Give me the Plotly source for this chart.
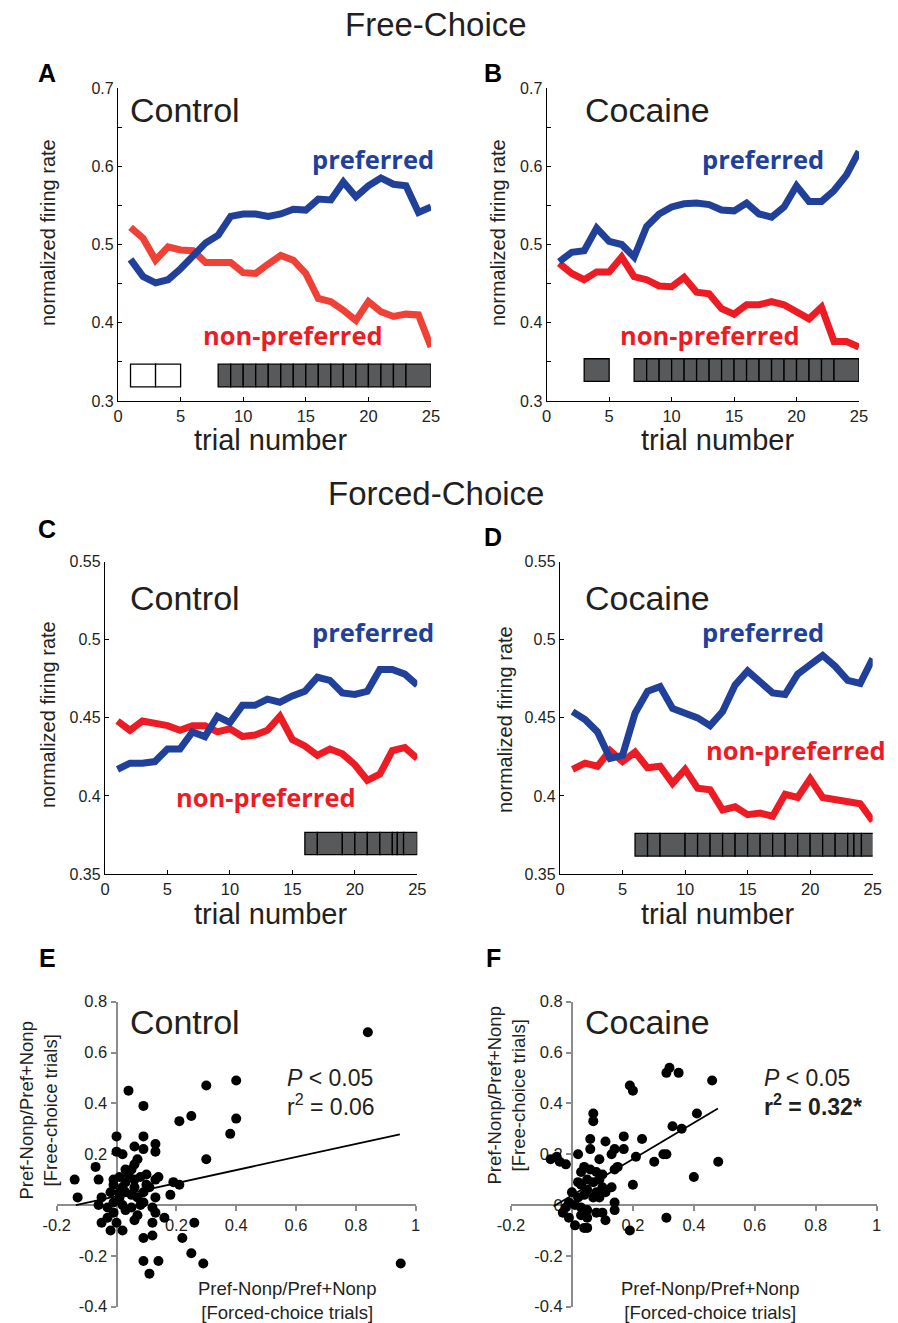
import plotly.graph_objects as go

W, H = 898, 1323

# ---------------- data ----------------
trials = list(range(1, 26))

free_ctrl_pref = [0.481, 0.459, 0.451, 0.455, 0.469, 0.486, 0.502, 0.512, 0.536, 0.539, 0.539, 0.536, 0.539,
                  0.545, 0.544, 0.558, 0.557, 0.580, 0.561, 0.575, 0.585, 0.577, 0.575, 0.541, 0.548]
free_ctrl_nonp = [0.522, 0.508, 0.480, 0.497, 0.493, 0.492, 0.477, 0.477, 0.477, 0.464, 0.463, 0.475, 0.486,
                  0.480, 0.463, 0.431, 0.427, 0.416, 0.403, 0.427, 0.414, 0.408, 0.411, 0.410, 0.369]
free_coc_pref = [0.478, 0.490, 0.492, 0.521, 0.504, 0.500, 0.484, 0.523, 0.539, 0.548, 0.552, 0.553, 0.551,
                 0.544, 0.543, 0.553, 0.539, 0.535, 0.548, 0.575, 0.555, 0.555, 0.569, 0.589, 0.619]
free_coc_nonp = [0.476, 0.463, 0.455, 0.465, 0.465, 0.484, 0.459, 0.455, 0.447, 0.446, 0.458, 0.439, 0.437,
                 0.418, 0.411, 0.423, 0.423, 0.427, 0.423, 0.414, 0.405, 0.420, 0.376, 0.376, 0.369]
forced_ctrl_pref = [0.417, 0.421, 0.421, 0.422, 0.430, 0.430, 0.441, 0.438, 0.451, 0.447, 0.458, 0.458, 0.462,
                    0.460, 0.464, 0.467, 0.476, 0.474, 0.466, 0.465, 0.467, 0.481, 0.481, 0.478, 0.471]
forced_ctrl_nonp = [0.448, 0.442, 0.448, 0.447, 0.445, 0.442, 0.445, 0.445, 0.441, 0.443, 0.438, 0.439, 0.442,
                    0.451, 0.436, 0.432, 0.426, 0.430, 0.427, 0.420, 0.410, 0.414, 0.429, 0.431, 0.424]
forced_coc_pref = [0.454, 0.449, 0.441, 0.424, 0.426, 0.453, 0.467, 0.470, 0.456, 0.453, 0.450, 0.445, 0.454,
                   0.471, 0.480, 0.473, 0.466, 0.465, 0.478, 0.484, 0.490, 0.483, 0.474, 0.472, 0.488]
forced_coc_nonp = [0.417, 0.421, 0.419, 0.429, 0.422, 0.428, 0.418, 0.419, 0.408, 0.417, 0.405, 0.404, 0.391,
                   0.393, 0.388, 0.389, 0.387, 0.401, 0.399, 0.411, 0.399, 0.398, 0.397, 0.395, 0.384]

# significance box edges (trial numbers)
free_ctrl_open_edges = [1, 3, 5]
free_ctrl_sig_edges = [8, 9, 10, 11, 12, 13, 14, 15, 16, 17, 18, 19, 20, 21, 22, 23, 25]
free_coc_sig_edges_early = [3, 5]
free_coc_sig_edges = [7, 8, 9, 10, 11, 12, 13, 14, 15, 16, 17, 18, 19, 20, 21, 22, 23, 25]
forced_ctrl_sig_edges = [16, 17, 19, 20, 21, 22, 23, 23.4, 23.9, 25]
forced_coc_sig_edges = [6, 7, 8, 10, 11, 12, 13, 14, 15, 16, 17, 18, 19, 20, 21, 22, 23, 23.5, 24.1, 25.25]

# scatter: control
ctrl_forced = [0.84, 0.40, 0.30, 0.04, 0.09, 0.25, 0.21, 0.40, 0.38, 0.00, 0.09, 0.13, 0.30, 0.06, 0.09, 0.13,
               0.00, 0.02, -0.07, -0.14, -0.06, -0.13, -0.01, 0.19, 0.21, 0.18, 0.14, 0.13, 0.13, 0.10, 0.09,
               0.12, 0.13, 0.16, 0.12, 0.26, 0.09, 0.12, 0.22, 0.25, 0.29, 0.09, 0.14, 0.11, 0.95, -0.05, -0.02,
               0.02, 0.00, -0.03, -0.06, -0.05, 0.06, 0.07, 0.03, 0.05, 0.08, 0.02, -0.01, 0.01, 0.02, 0.03,
               0.04, 0.05, 0.06, 0.07, 0.03, 0.05, 0.06, 0.07, 0.01, -0.02, -0.01, 0.01, 0.08, 0.10, 0.11, 0.06,
               0.03, -0.03, -0.01, 0.09]
ctrl_free = [0.68, 0.49, 0.47, 0.45, 0.39, 0.35, 0.33, 0.34, 0.28, 0.27, 0.27, 0.24, 0.18, 0.23, 0.22, 0.21,
             0.21, 0.20, 0.15, 0.10, 0.10, 0.03, 0.10, 0.09, 0.08, 0.04, 0.11, 0.10, 0.03, 0.08, 0.05,
             -0.01, -0.03, -0.05, -0.07, -0.07, -0.13, -0.12, -0.13, -0.19, -0.23, -0.22, -0.22, -0.27, -0.23,
             -0.07, -0.10, -0.10, -0.07, -0.05, 0.00, 0.03, -0.06, -0.04, -0.02, -0.01, 0.00, 0.00, 0.01,
             0.05, 0.07, 0.09, 0.12, 0.14, 0.16, 0.18, 0.05, 0.04, 0.07, 0.03, 0.03, 0.05, 0.08, 0.11, 0.11,
             0.12, 0.07, 0.10, 0.14, -0.01, -0.03, 0.01]
ctrl_fit_x = [-0.136, 0.947]
ctrl_fit_y = [0.0, 0.278]

# scatter: cocaine
coc_forced = [0.31, 0.32, 0.35, 0.46, 0.19, 0.20, 0.07, 0.07, 0.41, 0.33, 0.36, 0.06, 0.17, 0.23, 0.11, 0.06,
              0.14, 0.17, 0.02, 0.13, 0.09, 0.21, 0.27, 0.30, 0.31, 0.48, -0.07, -0.05, -0.04, -0.02, 0.15,
              0.14, 0.04, 0.06, 0.08, 0.10, 0.40, 0.20, 0.02, 0.03, 0.05, 0.07, 0.10, 0.13, 0.11, 0.08, 0.05,
              0.04, 0.02, 0.00, -0.01, 0.01, 0.03, 0.05, 0.08, 0.10, 0.14, 0.14, 0.11, 0.05, 0.03, -0.02,
              -0.03, -0.01, 0.01, 0.04, 0.05, 0.19, 0.31, 0.07, 0.09, 0.03, 0.09, 0.10]
coc_free = [0.52, 0.54, 0.52, 0.49, 0.47, 0.45, 0.36, 0.33, 0.36, 0.31, 0.30, 0.26, 0.27, 0.26, 0.25, 0.22,
            0.22, 0.22, 0.20, 0.20, 0.18, 0.19, 0.17, 0.20, 0.20, 0.17, 0.18, 0.19, 0.17, 0.16, 0.15,
            0.14, 0.15, 0.14, 0.13, 0.12, 0.11, 0.08, 0.09, 0.08, 0.10, 0.09, 0.07, 0.07, 0.05, 0.05, 0.06,
            0.04, 0.03, 0.05, 0.01, 0.00, -0.01, -0.02, -0.03, -0.03, 0.01, -0.02, -0.06, -0.05, -0.04, -0.01,
            -0.03, -0.05, -0.08, -0.09, -0.09, -0.10, -0.05, 0.03, 0.03, 0.13, 0.10, 0.05]
coc_fit_x = [-0.06, 0.479]
coc_fit_y = [-0.005, 0.38]

# tick labels for scatter axes
x_ticks = [-0.2, 0.2, 0.4, 0.6, 0.8, 1.0]
x_ticktext = ["-0.2", "0.2", "0.4", "0.6", "0.8", "1"]
y_ticks_ctrl = [-0.4, -0.2, 0.2, 0.4, 0.6, 0.8]
y_ticktext_ctrl = ["-0.4", "-0.2", "0.2", "0.4", "0.6", "0.8"]
y_ticks_coc = [-0.4, -0.2, 0, 0.2, 0.4, 0.6, 0.8]
y_ticktext_coc = ["-0.4", "-0.2", "0", "0.2", "0.4", "0.6", "0.8"]

# ---------------- styling ----------------
BLUE = "#21409a"
RED = "#ed1c24"
RED_A = "#ef4136"
BOX_GRAY = "#58595b"
AX_GRAY = "#8c8c8c"
TXT = "#231f20"
SANS = "Liberation Sans, Arial, sans-serif"
BOLDF = "Open Sans, Noto Sans, sans-serif"


def dx(a, b):
    return [a / W, b / W]


def dy(top, bottom):
    return [1 - bottom / H, 1 - top / H]


def px(x):
    return x / W


def py(y):
    return 1 - y / H


fig = go.Figure()
layout = {}
shapes = []
annotations = []

line_panels = [
    (1, dx(118, 431), dy(88, 401), [0.3, 0.7], 0.1, 0.05, free_ctrl_pref, free_ctrl_nonp, RED_A,
     [(free_ctrl_open_edges, "white"), (free_ctrl_sig_edges, BOX_GRAY)], (0.318, 0.347)),
    (2, dx(546.7, 859), dy(88, 401), [0.3, 0.7], 0.1, 0.05, free_coc_pref, free_coc_nonp, RED,
     [(free_coc_sig_edges_early, BOX_GRAY), (free_coc_sig_edges, BOX_GRAY)], (0.325, 0.354)),
    (3, dx(105, 417.3), dy(561.7, 874), [0.35, 0.55], 0.05, None, forced_ctrl_pref, forced_ctrl_nonp, RED,
     [(forced_ctrl_sig_edges, BOX_GRAY)], (0.3624, 0.3767)),
    (4, dx(560, 872.7), dy(561.7, 874), [0.35, 0.55], 0.05, None, forced_coc_pref, forced_coc_nonp, RED,
     [(forced_coc_sig_edges, BOX_GRAY)], (0.3615, 0.376)),
]

for idx, xd, yd, yr, dt, mn, pref, nonp, ncol, boxes, band in line_panels:
    xn = "x" if idx == 1 else f"x{idx}"
    yn = "y" if idx == 1 else f"y{idx}"
    xa = "xaxis" if idx == 1 else f"xaxis{idx}"
    ya = "yaxis" if idx == 1 else f"yaxis{idx}"
    fig.add_trace(go.Scatter(x=trials, y=nonp, mode="lines", line=dict(color=ncol, width=7),
                             xaxis=xn, yaxis=yn, showlegend=False, hoverinfo="skip"))
    fig.add_trace(go.Scatter(x=trials, y=pref, mode="lines", line=dict(color=BLUE, width=7),
                             xaxis=xn, yaxis=yn, showlegend=False, hoverinfo="skip"))
    layout[xa] = dict(domain=xd, range=[0, 25], anchor=yn, showline=True, linecolor="black", linewidth=1.3,
                      ticks="inside", ticklen=4, tickcolor="black", tickvals=[0, 5, 10, 15, 20, 25],
                      showgrid=False, zeroline=False, automargin=False,
                      tickfont=dict(family=SANS, size=16.5, color=TXT))
    yd_ = dict(domain=yd, range=yr, anchor=xn, showline=True, linecolor="black", linewidth=1.3,
               ticks="inside", ticklen=4, tickcolor="black", dtick=dt, tick0=yr[0],
               showgrid=False, zeroline=False, automargin=False,
               tickfont=dict(family=SANS, size=16, color=TXT))
    if mn:
        yd_["minor"] = dict(dtick=mn, tick0=yr[0], ticks="inside", ticklen=4, tickcolor="black", showgrid=False)
    layout[ya] = yd_
    for edges, fill in boxes:
        for a, b in zip(edges[:-1], edges[1:]):
            shapes.append(dict(type="rect", xref=xn, yref=yn, x0=a, x1=b, y0=band[0], y1=band[1],
                               fillcolor=fill, line=dict(color="black", width=1.3)))

# scatter panels
scatter_panels = [
    (5, dx(56.7, 415.7), dy(1001.7, 1306.7), ctrl_forced, ctrl_free, ctrl_fit_x, ctrl_fit_y,
     y_ticks_ctrl, y_ticktext_ctrl),
    (6, dx(511, 876.7), dy(1001.7, 1306.7), coc_forced, coc_free, coc_fit_x, coc_fit_y,
     y_ticks_coc, y_ticktext_coc),
]
XR = [-0.2, 1.0]
YR = [-0.4, 0.8]
for idx, xd, yd, xs, ys, fx, fy, ytv, ytt in scatter_panels:
    xn, yn = f"x{idx}", f"y{idx}"
    fig.add_trace(go.Scatter(x=fx, y=fy, mode="lines", line=dict(color="black", width=1.8),
                             xaxis=xn, yaxis=yn, showlegend=False, hoverinfo="skip"))
    fig.add_trace(go.Scatter(x=xs, y=ys, mode="markers", marker=dict(color="black", size=10),
                             xaxis=xn, yaxis=yn, showlegend=False, hoverinfo="skip", cliponaxis=False))
    xpos = yd[0] + (0 - YR[0]) / (YR[1] - YR[0]) * (yd[1] - yd[0])
    ypos = xd[0] + (0 - XR[0]) / (XR[1] - XR[0]) * (xd[1] - xd[0])
    layout[f"xaxis{idx}"] = dict(domain=xd, range=XR, anchor="free", position=xpos, showline=True,
                                 linecolor=AX_GRAY, linewidth=2, ticks="outside", ticklen=5,
                                 tickcolor=AX_GRAY, tickwidth=2, tickvals=x_ticks, ticktext=x_ticktext,
                                 showgrid=False, zeroline=False, layer="below traces", automargin=False,
                                 tickfont=dict(family=SANS, size=16.5, color=TXT))
    layout[f"yaxis{idx}"] = dict(domain=yd, range=YR, anchor="free", position=ypos, showline=True,
                                 linecolor=AX_GRAY, linewidth=2, ticks="outside", ticklen=5,
                                 tickcolor=AX_GRAY, tickwidth=2, tickvals=ytv, ticktext=ytt,
                                 showgrid=False, zeroline=False, layer="below traces", automargin=False,
                                 tickfont=dict(family=SANS, size=16.5, color=TXT))


def ann(text, x, y, size, color=TXT, family=SANS, xanchor="center", angle=0):
    annotations.append(dict(text=text, x=px(x), y=py(y), xref="paper", yref="paper", showarrow=False,
                            xanchor=xanchor, yanchor="middle", textangle=angle,
                            font=dict(size=size, color=color, family=family)))


# section titles
ann("Free-Choice", 436, 25, 33)
ann("Forced-Choice", 436, 493, 33)
# panel letters
for L, x, y in [("A", 47, 73), ("B", 493, 73), ("C", 47, 529), ("D", 493, 537), ("E", 47, 958), ("F", 493, 958)]:
    ann(f"<b>{L}</b>", x, y, 25, color="black")
# group labels
for t, x, y in [("Control", 128, 110), ("Cocaine", 583, 110), ("Control", 128, 598), ("Cocaine", 583, 598),
                ("Control", 128, 1022), ("Cocaine", 583, 1022)]:
    ann(t, x, y, 34, xanchor="left")
# preferred / non-preferred labels
for t, c, x, y in [("preferred", BLUE, 373, 159), ("non-preferred", RED, 293, 335),
                   ("preferred", BLUE, 763, 159), ("non-preferred", RED, 710, 335),
                   ("preferred", BLUE, 373, 632), ("non-preferred", RED, 266, 797),
                   ("preferred", BLUE, 763, 632), ("non-preferred", RED, 796, 750)]:
    ann(f"<b>{t}</b>", x, y, 25.5, color=c, family=BOLDF)
# axis titles line panels
for x, y in [(48, 233), (498, 233), (48, 715), (505, 720)]:
    ann("normalized firing rate", x, y, 20, angle=-90)
for x, y in [(270, 440), (717, 440), (270, 914), (717, 914)]:
    ann("trial number", x, y, 29)
# scatter titles
for x, y in [(37.5, 1111), (505.5, 1096)]:
    ann("Pref-Nonp/Pref+Nonp<br>[Free-choice trials]", x, y, 18.5, angle=-90)
for x in [286.7, 710]:
    ann("Pref-Nonp/Pref+Nonp<br>[Forced-choice trials]", x, 1300, 18.5)
# statistics
ann("<i>P</i> < 0.05", 285, 1078, 23, xanchor="left")
ann("r<sup>2</sup> = 0.06", 285, 1105, 23, xanchor="left")
ann("<i>P</i> < 0.05", 762, 1078, 23, xanchor="left")
ann("<b>r<sup>2</sup> = 0.32*</b>", 762, 1105, 23, xanchor="left")

fig.update_layout(width=W, height=H, margin=dict(l=0, r=0, t=0, b=0, pad=0), autosize=False,
                  paper_bgcolor="white", plot_bgcolor="rgba(0,0,0,0)",
                  shapes=shapes, annotations=annotations, showlegend=False, **layout)
fig.write_html("out.html", config={"displayModeBar": False},
               post_script="document.body.style.margin='0px';document.body.style.padding='0px';"
                           "document.body.style.overflow='hidden';")
